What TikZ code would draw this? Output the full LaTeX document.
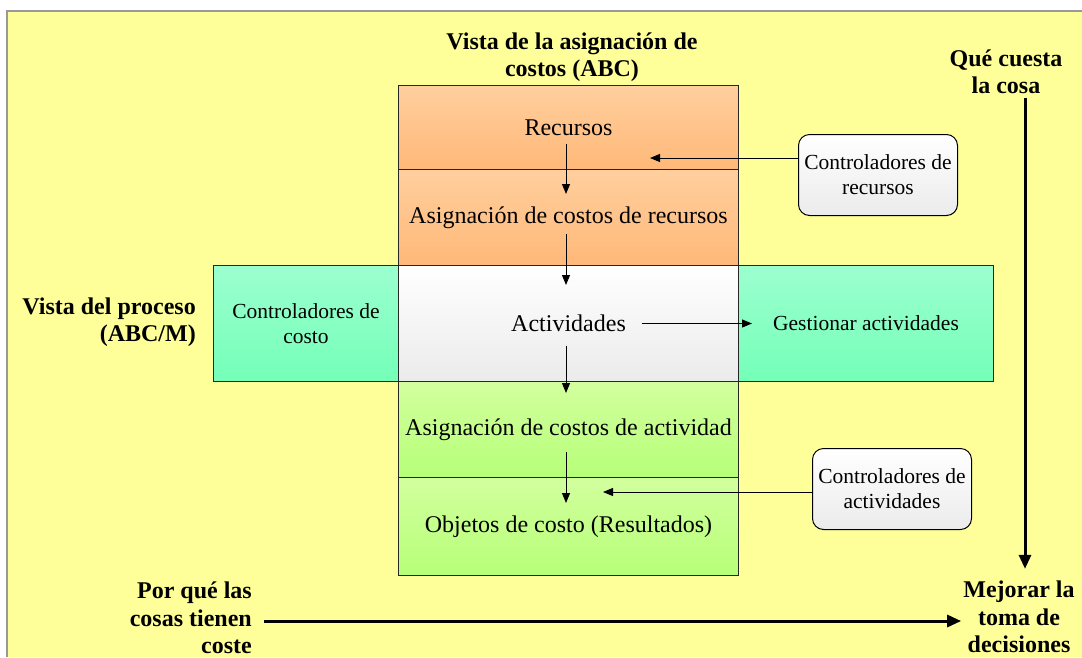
\documentclass[tikz,border=0pt]{standalone}
\usepackage{fontspec}
\setmainfont{Liberation Serif}
\usetikzlibrary{arrows.meta}
\definecolor{bgY}{HTML}{FFFF99}
\definecolor{orTop}{HTML}{FFCF9E}
\definecolor{orBot}{HTML}{FFB878}
\definecolor{tlTop}{HTML}{9CFFCF}
\definecolor{tlBot}{HTML}{74FFB8}
\definecolor{grTop}{HTML}{D2FF9E}
\definecolor{grBot}{HTML}{B6FF78}
\definecolor{wtBot}{HTML}{EBEBEB}
\tikzset{
  box/.style={draw=black!85, line width=1pt, anchor=north west, inner sep=0pt,
    font=\fontsize{24}{28}\selectfont, align=center},
  orbox/.style={box, top color=orTop, bottom color=orBot},
  tlbox/.style={box, top color=tlTop, bottom color=tlBot, font=\fontsize{21.5}{25}\selectfont},
  grbox/.style={box, top color=grTop, bottom color=grBot},
  wtbox/.style={box, top color=white, bottom color=wtBot},
  ctrl/.style={draw=black, line width=1pt, rounded corners=11pt, anchor=north west,
    inner sep=0pt, top color=white, bottom color=wtBot, align=center,
    font=\fontsize{21.5}{25}\selectfont},
  lbl/.style={font=\bfseries\fontsize{24}{27.5}\selectfont, inner sep=0pt},
  thin/.style={-{Triangle[length=10pt,width=8pt]}, line width=1pt},
  thick/.style={-{Triangle[length=14pt,width=12pt]}, line width=3pt},
}
\begin{document}
\begin{tikzpicture}[x=1pt,y=-1pt]
\useasboundingbox (0,0) rectangle (1082,657);
\fill[bgY] (7,11) rectangle (1082,657);
\draw[gray!80, line width=1.2pt] (7,657) -- (7,11) -- (1082,11);

% boxes
\node[orbox, minimum width=340pt, minimum height=84pt] (rec) at (398,85) {Recursos};
\node[orbox, minimum width=340pt, minimum height=96pt] (asr) at (398,169) {Asignación de costos de recursos};
\node[tlbox, minimum width=185pt, minimum height=116pt] (cc) at (213,265) {Controladores de\\costo};
\node[wtbox, minimum width=340pt, minimum height=116pt] (act) at (398,265) {Actividades};
\node[tlbox, minimum width=255pt, minimum height=116pt] (ga) at (738,265) {Gestionar actividades};
\node[grbox, minimum width=340pt, minimum height=96pt] (asa) at (398,381) {Asignación de costos de actividad};
\node[grbox, minimum width=340pt, minimum height=98pt] (obj) at (398,477) {Objetos de costo (Resultados)};

\node[ctrl, minimum width=159pt, minimum height=81pt] (cr) at (798,134) {Controladores de\\recursos};
\node[ctrl, minimum width=159pt, minimum height=81pt] (ca) at (812,448) {Controladores de\\actividades};

% labels
\node[lbl, align=center] (tit) at (572,57) {Vista de la asignación de\\costos (ABC)};
\node[lbl, align=center] (que) at (1006,72) {Qué cuesta\\la cosa};
\node[lbl, align=right, anchor=east] (vp) at (196,322) {Vista del proceso\\(ABC/M)};
\node[lbl, align=right, anchor=east] (por) at (252,618) {Por qué las\\cosas tienen\\coste};
\node[lbl, align=center] (mej) at (1019,617) {Mejorar la\\toma de\\decisiones};

% internal arrows
\coordinate (ax) at (566,0);
\draw[thin] ([yshift=-16pt]rec.center -| ax) -- ([yshift=-25pt]asr.north -| ax);
\draw[thin] ([yshift=-16pt]asr.center -| ax) -- ([yshift=-20pt]act.north -| ax);
\draw[thin] ([yshift=-22pt]act.center -| ax) -- ([yshift=-12pt]asa.north -| ax);
\draw[thin] ([yshift=-22pt]asa.center -| ax) -- ([yshift=-26pt]obj.north -| ax);
\draw[thin] ([xshift=73pt]act.center) -- ([xshift=14pt]ga.west);
\draw[thin] ([yshift=-24pt]cr.north west) -- ++(-148,0);
\draw[thin] ([yshift=-44pt]ca.north west) -- ++(-209,0);

% big arrows
\coordinate (vx) at (1025,0);
\draw[thick] ([yshift=-4pt]que.south -| vx) -- ([yshift=12pt]mej.north -| vx);
\draw[thick] ([xshift=12pt,yshift=-3pt]por.east) -- ([xshift=-2pt,yshift=-4pt]mej.west);
\end{tikzpicture}
\end{document}
